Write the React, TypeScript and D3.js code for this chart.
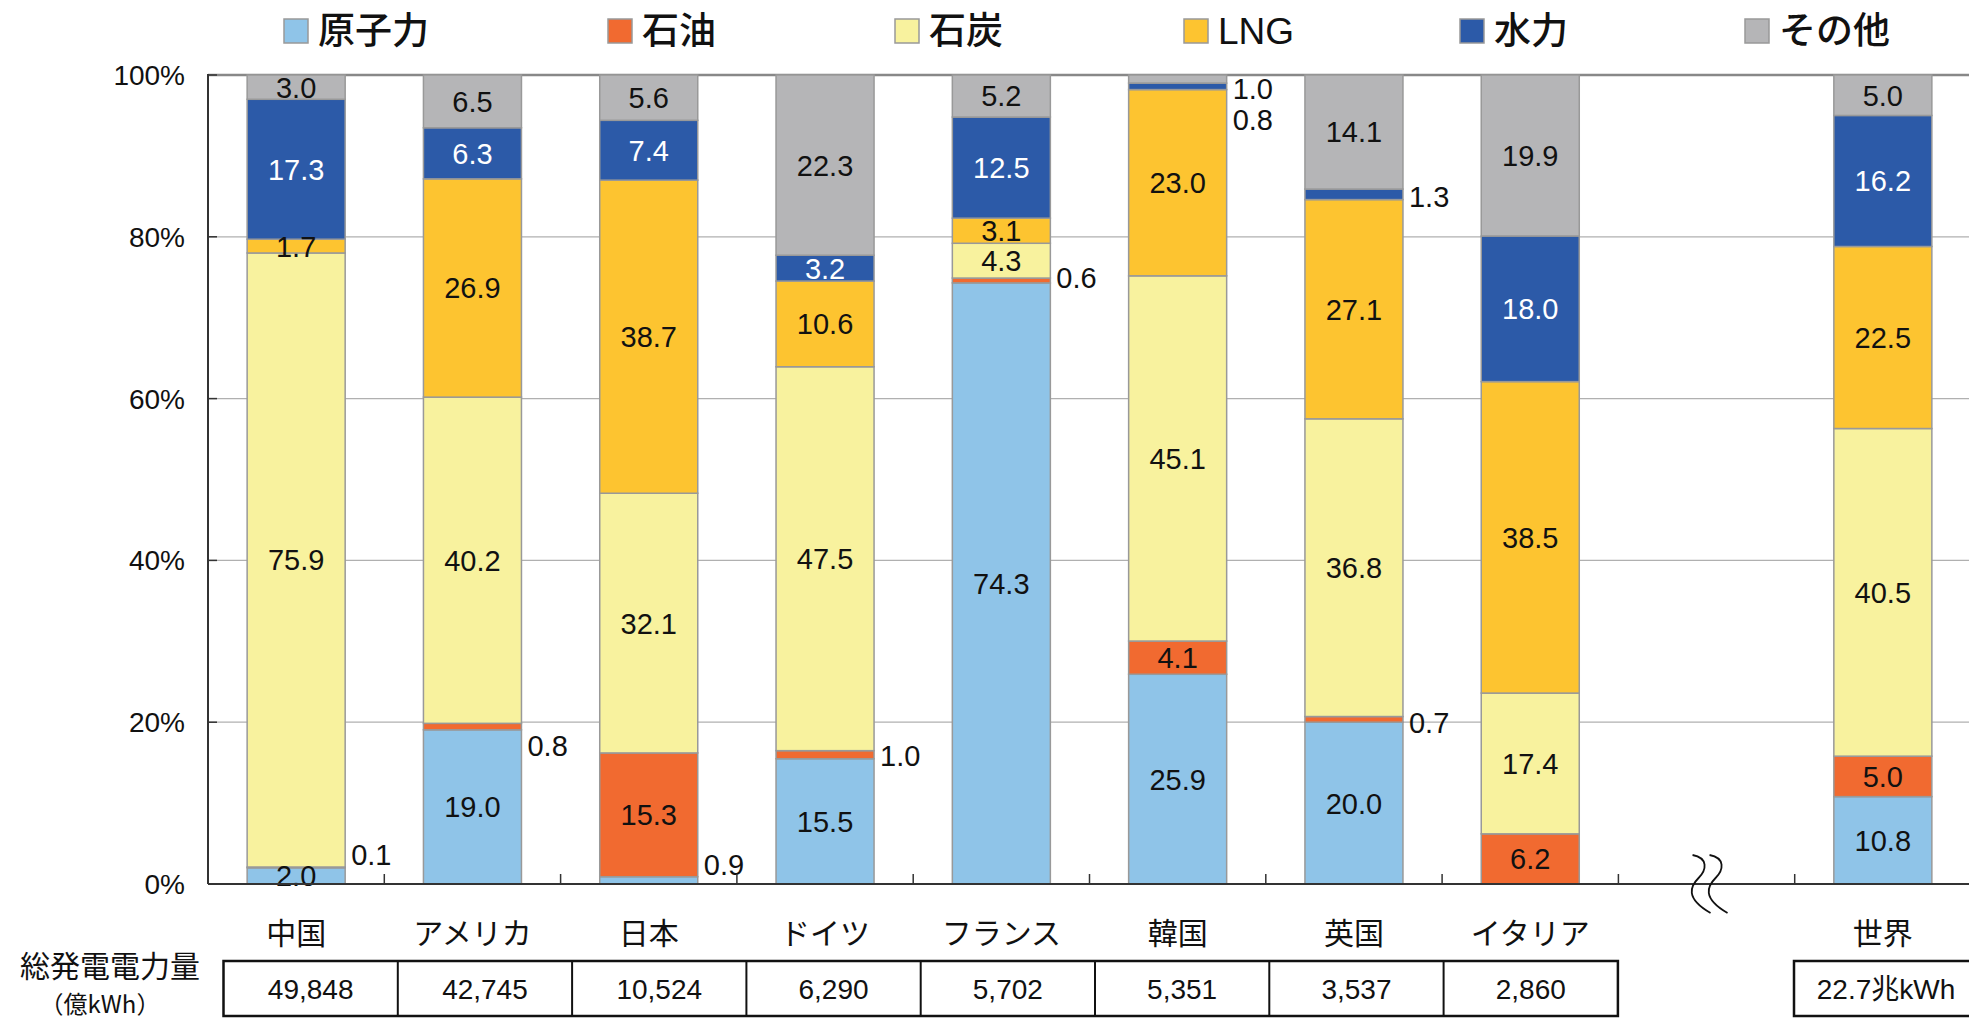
import React from "react";
import * as d3 from "d3";

// ---------- data ----------
const categories = ["中国", "アメリカ", "日本", "ドイツ", "フランス", "韓国", "英国", "イタリア", "", "世界"];
const seriesKeys = ["原子力", "石油", "石炭", "LNG", "水力", "その他"];
const nuclear = [2.0, 19.0, 0.9, 15.5, 74.3, 25.9, 20.0, 0, null, 10.8];
const oil = [0.1, 0.8, 15.3, 1.0, 0.6, 4.1, 0.7, 6.2, null, 5.0];
const coal = [75.9, 40.2, 32.1, 47.5, 4.3, 45.1, 36.8, 17.4, null, 40.5];
const lng = [1.7, 26.9, 38.7, 10.6, 3.1, 23.0, 27.1, 38.5, null, 22.5];
const hydro = [17.3, 6.3, 7.4, 3.2, 12.5, 0.8, 1.3, 18.0, null, 16.2];
const other = [3.0, 6.5, 5.6, 22.3, 5.2, 1.0, 14.1, 19.9, null, 5.0];
const totals = ["49,848", "42,745", "10,524", "6,290", "5,702", "5,351", "3,537", "2,860", "", "22.7兆kWh"];
const yTicks = [0, 0.2, 0.4, 0.6, 0.8, 1.0];

// ---------- styles / layout ----------
const colors: Record<string, string> = {
  原子力: "#8FC4E8",
  石油: "#F16A30",
  石炭: "#F8F29E",
  LNG: "#FDC430",
  水力: "#2C5AA8",
  その他: "#B5B5B7",
};
const labelColor: Record<string, string> = { 水力: "#FFFFFF" };
// vertical nudges (px) for small labels drawn to the right of the bars
const outsideNudge: Record<string, number> = {
  "中国|石油": -13,
  "アメリカ|石油": 19,
  "日本|原子力": -16,
  "ドイツ|石油": 1,
  "フランス|石油": -3,
  "韓国|その他": 10,
  "韓国|水力": 33,
  "英国|水力": 2,
  "英国|石油": 3,
};
const legendX = [284, 608, 895, 1184, 1460, 1745];

const W = 1969;
const H = 1021;
const left = 208;
const top = 75;
const bottom = 884;
const right = 1971;

const LATIN = "'Liberation Sans', Arial, 'Noto Sans CJK JP', sans-serif";
const CJK = "'Noto Sans CJK JP', 'Liberation Sans', sans-serif";

export default function App() {
  const seriesArrays = [nuclear, oil, coal, lng, hydro, other];
  const rows = categories.map((c, i) => {
    const r: any = { cat: c };
    seriesKeys.forEach((k, j) => (r[k] = seriesArrays[j][i] ?? 0));
    return r;
  });
  const realRows = rows.filter((r) => r.cat !== "");

  const x = d3
    .scaleBand<string>()
    .domain(categories)
    .range([left, right])
    .paddingInner(0.444)
    .paddingOuter(0.222);
  const step = x.step();
  const y = d3.scaleLinear().domain([0, 1]).range([bottom, top]);

  const stack = d3.stack<any>().keys(seriesKeys).offset(d3.stackOffsetExpand);
  const stacked = stack(realRows);

  const bw = x.bandwidth();
  const gapCenter = (x("") as number) + bw / 2;

  // table geometry
  const tableTop = 961;
  const tableBottom = 1016;
  const cellW = 174.3;
  const tableLeft = 223.5;
  const countryCount = 8;

  return (
    <svg
      width={W}
      height={H}
      style={{ position: "absolute", left: 0, top: 0, background: "#fff" }}
    >
      <rect x={0} y={0} width={W} height={H} fill="#fff" />

      {/* legend */}
      {seriesKeys.map((k, i) => (
        <g key={k} transform={`translate(${legendX[i]},31)`}>
          <rect x={0} y={-12} width={24} height={24} fill={colors[k]} stroke="#999" strokeWidth={1.5} />
          <text
            x={34}
            y={0}
            dy="0.36em"
            fontSize={37}
            fontWeight={500}
            fontFamily={k === "LNG" ? LATIN : CJK}
            fill="#111"
          >
            {k}
          </text>
        </g>
      ))}

      {/* gridlines */}
      {yTicks
        .filter((t) => t > 0 && t < 1)
        .map((t) => (
          <line key={t} x1={left} x2={right} y1={y(t)} y2={y(t)} stroke="#B0B0B0" strokeWidth={1.2} />
        ))}
      <line x1={left} x2={right} y1={y(1)} y2={y(1)} stroke="#888" strokeWidth={2.5} />

      {/* bars */}
      {stacked.map((s) =>
        s.map((d, i) => {
          const cat = realRows[i].cat;
          const v = realRows[i][s.key];
          if (!v) return null;
          const x0 = x(cat) as number;
          return (
            <rect
              key={s.key + cat}
              x={x0}
              y={y(d[1])}
              width={bw}
              height={y(d[0]) - y(d[1])}
              fill={colors[s.key]}
              stroke="#999"
              strokeWidth={1.5}
            />
          );
        })
      )}

      {/* value labels */}
      {stacked.map((s) =>
        s.map((d, i) => {
          const cat = realRows[i].cat;
          const v = realRows[i][s.key];
          if (!v) return null;
          const key = cat + "|" + s.key;
          const x0 = x(cat) as number;
          const cy = (y(d[0]) + y(d[1])) / 2;
          const outside = key in outsideNudge;
          return (
            <text
              key={"l" + key}
              x={outside ? x0 + bw + 6 : x0 + bw / 2}
              y={outside ? cy + outsideNudge[key] : cy}
              dy="0.36em"
              textAnchor={outside ? "start" : "middle"}
              fontSize={29}
              fontFamily={LATIN}
              fill={outside ? "#111" : labelColor[s.key] || "#111"}
            >
              {v.toFixed(1)}
            </text>
          );
        })
      )}

      {/* axes */}
      <line x1={left} x2={left} y1={top - 1} y2={bottom} stroke="#333" strokeWidth={2} />
      <line x1={left} x2={right} y1={bottom} y2={bottom} stroke="#333" strokeWidth={2} />
      {yTicks.map((t) => (
        <g key={"yt" + t}>
          <line x1={left} x2={left + 9} y1={y(t)} y2={y(t)} stroke="#333" strokeWidth={1.5} />
          <text
            x={185}
            y={y(t)}
            dy="0.36em"
            textAnchor="end"
            fontSize={28}
            fontFamily={LATIN}
            fill="#111"
          >
            {d3.format(".0%")(t)}
          </text>
        </g>
      ))}
      {categories.map((c, i) =>
        i === 0 ? null : (
          <line
            key={"xt" + i}
            x1={left + i * step}
            x2={left + i * step}
            y1={bottom}
            y2={bottom - 10}
            stroke="#333"
            strokeWidth={1.5}
          />
        )
      )}

      {/* axis break mark */}
      {[0, 17].map((off) => (
        <path
          key={"br" + off}
          d={`M ${gapCenter - 14 + off} 855 C ${gapCenter + 2 + off} 858, ${gapCenter + off} 870, ${gapCenter - 8 + off} 878 S ${gapCenter - 22 + off} 898, ${gapCenter + 4 + off} 913`}
          fill="none"
          stroke="#111"
          strokeWidth={1.8}
        />
      ))}

      {/* category labels */}
      {categories.map((c) =>
        c === "" ? null : (
          <text
            key={"c" + c}
            x={(x(c) as number) + bw / 2}
            y={933}
            dy="0.36em"
            textAnchor="middle"
            fontSize={30}
            fontWeight={400}
            fontFamily={CJK}
            fill="#111"
          >
            {c}
          </text>
        )
      )}

      {/* total generation table */}
      <text x={110} y={966} dy="0.36em" textAnchor="middle" fontSize={30} fontWeight={400} fontFamily={CJK} fill="#111">
        総発電電力量
      </text>
      <text x={100} y={1004} dy="0.36em" textAnchor="middle" fontSize={24} fontWeight={400} fontFamily={CJK} fill="#111">
        （億kWh）
      </text>
      <rect
        x={tableLeft}
        y={tableTop}
        width={cellW * countryCount}
        height={tableBottom - tableTop}
        fill="none"
        stroke="#111"
        strokeWidth={2.5}
      />
      {d3.range(1, countryCount).map((k) => (
        <line
          key={"cl" + k}
          x1={tableLeft + k * cellW}
          x2={tableLeft + k * cellW}
          y1={tableTop}
          y2={tableBottom}
          stroke="#111"
          strokeWidth={2}
        />
      ))}
      {totals.slice(0, countryCount).map((t, k) => (
        <text
          key={"tv" + k}
          x={tableLeft + (k + 0.5) * cellW}
          y={(tableTop + tableBottom) / 2}
          dy="0.36em"
          textAnchor="middle"
          fontSize={28}
          fontFamily={LATIN}
          fill="#111"
        >
          {t}
        </text>
      ))}
      <rect x={1794} y={tableTop} width={184} height={tableBottom - tableTop} fill="none" stroke="#111" strokeWidth={2.5} />
      <text
        x={1886}
        y={(tableTop + tableBottom) / 2}
        dy="0.36em"
        textAnchor="middle"
        fontSize={28}
        fontFamily={LATIN}
        fill="#111"
      >
        {totals[9]}
      </text>
    </svg>
  );
}
